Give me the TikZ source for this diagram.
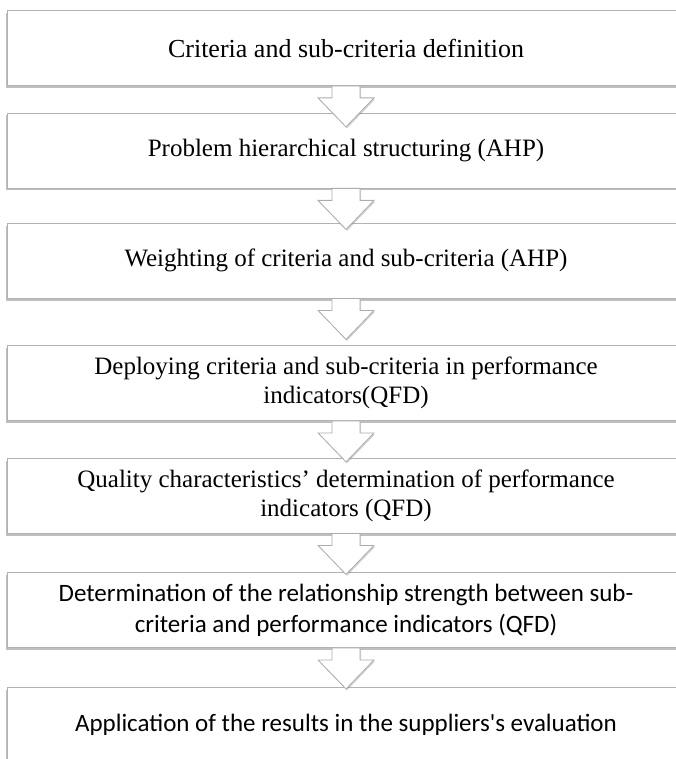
\documentclass[tikz,border=0pt]{standalone}
\usepackage{fontspec}
\setmainfont{Liberation Serif}
\newfontfamily\calibrifont{Carlito}
\usetikzlibrary{shadows,calc}

\begin{document}
\begin{tikzpicture}[x=1pt,y=-1pt]
\tikzstyle{stage}=[draw=gray!60,line width=0.8pt,fill=white,minimum width=678pt,minimum height=75pt,align=center,inner sep=0pt,font=\fontsize{25}{29}\selectfont,drop shadow={shadow xshift=-0.6pt,shadow yshift=-2.5pt,opacity=0.5}]
\tikzstyle{stagecal}=[stage,font=\calibrifont\fontsize{25}{31}\selectfont]
\tikzstyle{blockarrow}=[draw=gray!65,line width=0.8pt,fill=white,line join=miter,drop shadow={shadow xshift=1pt,shadow yshift=-1.5pt,opacity=0.35}]
\useasboundingbox (0,0) rectangle (676,759);
\clip (0,0) rectangle (676,759);
\node[stage,font=\fontsize{26}{30}\selectfont] (s1) at (346,48) {Criteria and sub-criteria definition};
\node[stage] (s2) at (346,150.5) {Problem hierarchical structuring (AHP)};
\node[stage] (s3) at (346,260.5) {Weighting of criteria and sub-criteria (AHP)};
\node[stage] (s4) at (346,383) {Deploying criteria and sub-criteria in performance\\ indicators(QFD)};
\node[stage] (s5) at (346,495.5) {Quality characteristics' determination of performance\\ indicators (QFD)};
\node[stagecal] (s6) at (346,610) {Determination of the relationship strength between sub-\\ criteria and performance indicators (QFD)};
\node[stagecal] (s7) at (346,725) {Application of the results in the suppliers's evaluation};
% hollow arrows between the stages
\foreach \a in {s1,s2,s3,s4,s5,s6}
  \draw[blockarrow] ([xshift=-14pt]\a.south) -- ++(0,12) -- ++(-14,0) -- ($(\a.south)+(0,41)$)
    -- ++(28,-29) -- ++(-14,0) -- ([xshift=14pt]\a.south) -- cycle;
\end{tikzpicture}
\end{document}
